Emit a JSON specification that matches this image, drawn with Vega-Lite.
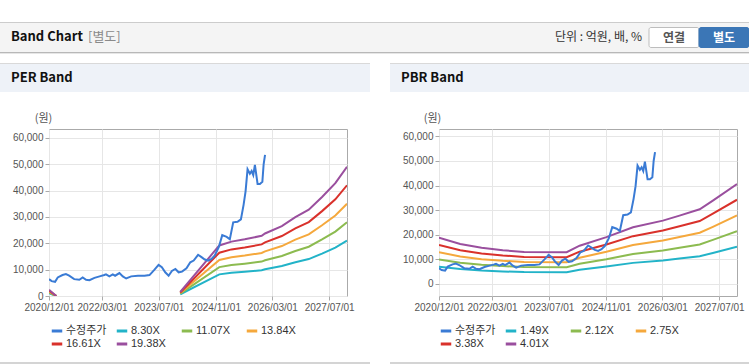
{
  "$schema": "https://vega.github.io/schema/vega-lite/v6.json",
  "padding": {"left": 0, "top": 22, "right": 0, "bottom": 0},
  "background": "#ffffff",
  "config": {
    "font": "Liberation Sans, Noto Sans CJK KR, sans-serif",
    "view": {"stroke": null},
    "axis": {"labelFont": "Liberation Sans, Noto Sans CJK KR", "labelFontSize": 10, "labelColor": "#555555", "gridColor": "#e6e6e6", "tickColor": "#aaaaaa", "domain": false, "tickSize": 4, "labelPadding": 2},
    "title": {"font": "Noto Sans CJK KR", "fontWeight": "bold", "fontSize": 13, "color": "#111111", "anchor": "start", "frame": "group", "offset": -21}
  },
  "datasets": {
    "price": [
      {"date": "2020-12-01", "series": "수정주가", "value": 6400},
      {"date": "2020-12-24", "series": "수정주가", "value": 5650},
      {"date": "2021-01-22", "series": "수정주가", "value": 5400},
      {"date": "2021-02-14", "series": "수정주가", "value": 7050},
      {"date": "2021-03-27", "series": "수정주가", "value": 7950},
      {"date": "2021-04-25", "series": "수정주가", "value": 8300},
      {"date": "2021-05-23", "series": "수정주가", "value": 7700},
      {"date": "2021-07-05", "series": "수정주가", "value": 6400},
      {"date": "2021-08-18", "series": "수정주가", "value": 6150},
      {"date": "2021-09-16", "series": "수정주가", "value": 7050},
      {"date": "2021-10-15", "series": "수정주가", "value": 6150},
      {"date": "2021-11-13", "series": "수정주가", "value": 6000},
      {"date": "2021-12-26", "series": "수정주가", "value": 6900},
      {"date": "2022-02-08", "series": "수정주가", "value": 7450},
      {"date": "2022-03-20", "series": "수정주가", "value": 7950},
      {"date": "2022-04-04", "series": "수정주가", "value": 8200},
      {"date": "2022-05-03", "series": "수정주가", "value": 7450},
      {"date": "2022-06-01", "series": "수정주가", "value": 8200},
      {"date": "2022-06-21", "series": "수정주가", "value": 7700},
      {"date": "2022-07-28", "series": "수정주가", "value": 8700},
      {"date": "2022-08-26", "series": "수정주가", "value": 7450},
      {"date": "2022-09-24", "series": "수정주가", "value": 6650},
      {"date": "2022-11-06", "series": "수정주가", "value": 7450},
      {"date": "2023-01-03", "series": "수정주가", "value": 7700},
      {"date": "2023-02-28", "series": "수정주가", "value": 7700},
      {"date": "2023-04-12", "series": "수정주가", "value": 7950},
      {"date": "2023-05-25", "series": "수정주가", "value": 10000},
      {"date": "2023-06-29", "series": "수정주가", "value": 11800},
      {"date": "2023-07-27", "series": "수정주가", "value": 10900},
      {"date": "2023-08-25", "series": "수정주가", "value": 9000},
      {"date": "2023-09-23", "series": "수정주가", "value": 7700},
      {"date": "2023-10-21", "series": "수정주가", "value": 9500},
      {"date": "2023-11-20", "series": "수정주가", "value": 10250},
      {"date": "2023-12-18", "series": "수정주가", "value": 9000},
      {"date": "2024-01-16", "series": "수정주가", "value": 9250},
      {"date": "2024-02-23", "series": "수정주가", "value": 10500},
      {"date": "2024-03-27", "series": "수정주가", "value": 12800},
      {"date": "2024-04-25", "series": "수정주가", "value": 13450},
      {"date": "2024-06-02", "series": "수정주가", "value": 15650},
      {"date": "2024-07-01", "series": "수정주가", "value": 14750},
      {"date": "2024-07-29", "series": "수정주가", "value": 13850},
      {"date": "2024-08-27", "series": "수정주가", "value": 13450},
      {"date": "2024-09-25", "series": "수정주가", "value": 14100},
      {"date": "2024-10-23", "series": "수정주가", "value": 15400},
      {"date": "2024-11-27", "series": "수정주가", "value": 18600},
      {"date": "2024-12-26", "series": "수정주가", "value": 23100},
      {"date": "2025-02-02", "series": "수정주가", "value": 22450},
      {"date": "2025-03-01", "series": "수정주가", "value": 21550},
      {"date": "2025-03-30", "series": "수정주가", "value": 27950},
      {"date": "2025-05-06", "series": "수정주가", "value": 28200},
      {"date": "2025-06-04", "series": "수정주가", "value": 29100},
      {"date": "2025-06-27", "series": "수정주가", "value": 34600},
      {"date": "2025-07-14", "series": "수정주가", "value": 39750},
      {"date": "2025-07-31", "series": "수정주가", "value": 48100},
      {"date": "2025-08-20", "series": "수정주가", "value": 46400},
      {"date": "2025-09-04", "series": "수정주가", "value": 47450},
      {"date": "2025-09-18", "series": "수정주가", "value": 45900},
      {"date": "2025-10-02", "series": "수정주가", "value": 49750},
      {"date": "2025-10-25", "series": "수정주가", "value": 42550},
      {"date": "2025-11-14", "series": "수정주가", "value": 42550},
      {"date": "2025-12-05", "series": "수정주가", "value": 43350},
      {"date": "2025-12-16", "series": "수정주가", "value": 50000},
      {"date": "2025-12-28", "series": "수정주가", "value": 53600}
    ],
    "perBand": [
      {"date": "2020-12-01", "seg": 1, "series": "8.30X", "value": 1029},
      {"date": "2020-12-01", "seg": 1, "series": "11.07X", "value": 1373},
      {"date": "2020-12-01", "seg": 1, "series": "13.84X", "value": 1716},
      {"date": "2020-12-01", "seg": 1, "series": "16.61X", "value": 2060},
      {"date": "2020-12-01", "seg": 1, "series": "19.38X", "value": 2403},
      {"date": "2021-02-01", "seg": 1, "series": "8.30X", "value": 0},
      {"date": "2021-02-01", "seg": 1, "series": "11.07X", "value": 0},
      {"date": "2021-02-01", "seg": 1, "series": "13.84X", "value": 0},
      {"date": "2021-02-01", "seg": 1, "series": "16.61X", "value": 0},
      {"date": "2021-02-01", "seg": 1, "series": "19.38X", "value": 0},
      {"date": "2024-01-01", "seg": 2, "series": "8.30X", "value": 664},
      {"date": "2024-01-01", "seg": 2, "series": "11.07X", "value": 886},
      {"date": "2024-01-01", "seg": 2, "series": "13.84X", "value": 1107},
      {"date": "2024-01-01", "seg": 2, "series": "16.61X", "value": 1329},
      {"date": "2024-01-01", "seg": 2, "series": "19.38X", "value": 1550},
      {"date": "2024-12-01", "seg": 2, "series": "8.30X", "value": 8217},
      {"date": "2024-12-01", "seg": 2, "series": "11.07X", "value": 10959},
      {"date": "2024-12-01", "seg": 2, "series": "13.84X", "value": 13702},
      {"date": "2024-12-01", "seg": 2, "series": "16.61X", "value": 16444},
      {"date": "2024-12-01", "seg": 2, "series": "19.38X", "value": 19186},
      {"date": "2025-03-15", "seg": 2, "series": "8.30X", "value": 8840},
      {"date": "2025-03-15", "seg": 2, "series": "11.07X", "value": 11790},
      {"date": "2025-03-15", "seg": 2, "series": "13.84X", "value": 14740},
      {"date": "2025-03-15", "seg": 2, "series": "16.61X", "value": 17690},
      {"date": "2025-03-15", "seg": 2, "series": "19.38X", "value": 20640},
      {"date": "2025-07-07", "seg": 2, "series": "8.30X", "value": 9213},
      {"date": "2025-07-07", "seg": 2, "series": "11.07X", "value": 12288},
      {"date": "2025-07-07", "seg": 2, "series": "13.84X", "value": 15362},
      {"date": "2025-07-07", "seg": 2, "series": "16.61X", "value": 18437},
      {"date": "2025-07-07", "seg": 2, "series": "19.38X", "value": 21512},
      {"date": "2025-11-29", "seg": 2, "series": "8.30X", "value": 9794},
      {"date": "2025-11-29", "seg": 2, "series": "11.07X", "value": 13063},
      {"date": "2025-11-29", "seg": 2, "series": "13.84X", "value": 16331},
      {"date": "2025-11-29", "seg": 2, "series": "16.61X", "value": 19600},
      {"date": "2025-11-29", "seg": 2, "series": "19.38X", "value": 22868},
      {"date": "2025-12-28", "seg": 2, "series": "8.30X", "value": 10168},
      {"date": "2025-12-28", "seg": 2, "series": "11.07X", "value": 13561},
      {"date": "2025-12-28", "seg": 2, "series": "13.84X", "value": 16954},
      {"date": "2025-12-28", "seg": 2, "series": "16.61X", "value": 20347},
      {"date": "2025-12-28", "seg": 2, "series": "19.38X", "value": 23741},
      {"date": "2026-05-21", "seg": 2, "series": "8.30X", "value": 11371},
      {"date": "2026-05-21", "seg": 2, "series": "11.07X", "value": 15166},
      {"date": "2026-05-21", "seg": 2, "series": "13.84X", "value": 18961},
      {"date": "2026-05-21", "seg": 2, "series": "16.61X", "value": 22756},
      {"date": "2026-05-21", "seg": 2, "series": "19.38X", "value": 26551},
      {"date": "2026-09-14", "seg": 2, "series": "8.30X", "value": 12824},
      {"date": "2026-09-14", "seg": 2, "series": "11.07X", "value": 17103},
      {"date": "2026-09-14", "seg": 2, "series": "13.84X", "value": 21383},
      {"date": "2026-09-14", "seg": 2, "series": "16.61X", "value": 25662},
      {"date": "2026-09-14", "seg": 2, "series": "19.38X", "value": 29942},
      {"date": "2027-01-07", "seg": 2, "series": "8.30X", "value": 14027},
      {"date": "2027-01-07", "seg": 2, "series": "11.07X", "value": 18708},
      {"date": "2027-01-07", "seg": 2, "series": "13.84X", "value": 23390},
      {"date": "2027-01-07", "seg": 2, "series": "16.61X", "value": 28071},
      {"date": "2027-01-07", "seg": 2, "series": "19.38X", "value": 32752},
      {"date": "2027-05-01", "seg": 2, "series": "8.30X", "value": 16102},
      {"date": "2027-05-01", "seg": 2, "series": "11.07X", "value": 21476},
      {"date": "2027-05-01", "seg": 2, "series": "13.84X", "value": 26850},
      {"date": "2027-05-01", "seg": 2, "series": "16.61X", "value": 32223},
      {"date": "2027-05-01", "seg": 2, "series": "19.38X", "value": 37597},
      {"date": "2027-08-23", "seg": 2, "series": "8.30X", "value": 18343},
      {"date": "2027-08-23", "seg": 2, "series": "11.07X", "value": 24465},
      {"date": "2027-08-23", "seg": 2, "series": "13.84X", "value": 30586},
      {"date": "2027-08-23", "seg": 2, "series": "16.61X", "value": 36708},
      {"date": "2027-08-23", "seg": 2, "series": "19.38X", "value": 42830},
      {"date": "2027-12-01", "seg": 2, "series": "8.30X", "value": 20999},
      {"date": "2027-12-01", "seg": 2, "series": "11.07X", "value": 28007},
      {"date": "2027-12-01", "seg": 2, "series": "13.84X", "value": 35015},
      {"date": "2027-12-01", "seg": 2, "series": "16.61X", "value": 42023},
      {"date": "2027-12-01", "seg": 2, "series": "19.38X", "value": 49031}
    ],
    "pbrBand": [
      {"date": "2020-12-01", "series": "1.49X", "value": 7003},
      {"date": "2020-12-01", "series": "2.12X", "value": 9964},
      {"date": "2020-12-01", "series": "2.75X", "value": 12925},
      {"date": "2020-12-01", "series": "3.38X", "value": 15886},
      {"date": "2020-12-01", "series": "4.01X", "value": 18847},
      {"date": "2021-06-01", "series": "1.49X", "value": 6049},
      {"date": "2021-06-01", "series": "2.12X", "value": 8607},
      {"date": "2021-06-01", "series": "2.75X", "value": 11165},
      {"date": "2021-06-01", "series": "3.38X", "value": 13723},
      {"date": "2021-06-01", "series": "4.01X", "value": 16281},
      {"date": "2021-12-01", "series": "1.49X", "value": 5453},
      {"date": "2021-12-01", "series": "2.12X", "value": 7759},
      {"date": "2021-12-01", "series": "2.75X", "value": 10065},
      {"date": "2021-12-01", "series": "3.38X", "value": 12371},
      {"date": "2021-12-01", "series": "4.01X", "value": 14677},
      {"date": "2022-06-01", "series": "1.49X", "value": 5096},
      {"date": "2022-06-01", "series": "2.12X", "value": 7250},
      {"date": "2022-06-01", "series": "2.75X", "value": 9405},
      {"date": "2022-06-01", "series": "3.38X", "value": 11560},
      {"date": "2022-06-01", "series": "4.01X", "value": 13714},
      {"date": "2022-12-01", "series": "1.49X", "value": 4843},
      {"date": "2022-12-01", "series": "2.12X", "value": 6890},
      {"date": "2022-12-01", "series": "2.75X", "value": 8938},
      {"date": "2022-12-01", "series": "3.38X", "value": 10985},
      {"date": "2022-12-01", "series": "4.01X", "value": 13033},
      {"date": "2023-12-01", "series": "1.49X", "value": 4798},
      {"date": "2023-12-01", "series": "2.12X", "value": 6826},
      {"date": "2023-12-01", "series": "2.75X", "value": 8855},
      {"date": "2023-12-01", "series": "3.38X", "value": 10884},
      {"date": "2023-12-01", "series": "4.01X", "value": 12912},
      {"date": "2024-03-21", "series": "1.49X", "value": 5781},
      {"date": "2024-03-21", "series": "2.12X", "value": 8226},
      {"date": "2024-03-21", "series": "2.75X", "value": 10670},
      {"date": "2024-03-21", "series": "3.38X", "value": 13114},
      {"date": "2024-03-21", "series": "4.01X", "value": 15559},
      {"date": "2024-11-06", "series": "1.49X", "value": 7078},
      {"date": "2024-11-06", "series": "2.12X", "value": 10070},
      {"date": "2024-11-06", "series": "2.75X", "value": 13063},
      {"date": "2024-11-06", "series": "3.38X", "value": 16055},
      {"date": "2024-11-06", "series": "4.01X", "value": 19048},
      {"date": "2025-06-22", "series": "1.49X", "value": 8568},
      {"date": "2025-06-22", "series": "2.12X", "value": 12190},
      {"date": "2025-06-22", "series": "2.75X", "value": 15813},
      {"date": "2025-06-22", "series": "3.38X", "value": 19435},
      {"date": "2025-06-22", "series": "4.01X", "value": 23058},
      {"date": "2026-03-05", "series": "1.49X", "value": 9566},
      {"date": "2026-03-05", "series": "2.12X", "value": 13610},
      {"date": "2026-03-05", "series": "2.75X", "value": 17655},
      {"date": "2026-03-05", "series": "3.38X", "value": 21700},
      {"date": "2026-03-05", "series": "4.01X", "value": 25744},
      {"date": "2026-07-26", "series": "1.49X", "value": 10326},
      {"date": "2026-07-26", "series": "2.12X", "value": 14692},
      {"date": "2026-07-26", "series": "2.75X", "value": 19058},
      {"date": "2026-07-26", "series": "3.38X", "value": 23423},
      {"date": "2026-07-26", "series": "4.01X", "value": 27789},
      {"date": "2027-01-15", "series": "1.49X", "value": 11279},
      {"date": "2027-01-15", "series": "2.12X", "value": 16048},
      {"date": "2027-01-15", "series": "2.75X", "value": 20818},
      {"date": "2027-01-15", "series": "3.38X", "value": 25587},
      {"date": "2027-01-15", "series": "4.01X", "value": 30356},
      {"date": "2027-05-08", "series": "1.49X", "value": 12591},
      {"date": "2027-05-08", "series": "2.12X", "value": 17914},
      {"date": "2027-05-08", "series": "2.75X", "value": 23238},
      {"date": "2027-05-08", "series": "3.38X", "value": 28561},
      {"date": "2027-05-08", "series": "4.01X", "value": 33885},
      {"date": "2027-12-01", "series": "1.49X", "value": 15094},
      {"date": "2027-12-01", "series": "2.12X", "value": 21476},
      {"date": "2027-12-01", "series": "2.75X", "value": 27858},
      {"date": "2027-12-01", "series": "3.38X", "value": 34239},
      {"date": "2027-12-01", "series": "4.01X", "value": 40621}
    ]
  },
  "resolve": {"scale": {"color": "independent", "fill": "independent", "stroke": "independent"}},
  "spacing": 9,
  "vconcat": [
    {
      "spacing": 0,
      "vconcat": [
        {"width": 749, "height": 1, "data": {"values": [{}]}, "mark": {"type": "rect", "color": "#cccccc"}},
        {
          "bounds": "flush",
          "spacing": 0,
          "hconcat": [
            {"width": 88, "height": 29, "data": {"values": [{}]}, "mark": {"type": "rect", "color": "#f4f4f4"},
             "title": {"text": "Band Chart", "dx": 11}},
            {"width": 400, "height": 29, "data": {"values": [{}]}, "mark": {"type": "rect", "color": "#f4f4f4"},
             "title": {"text": "[별도]", "fontWeight": "normal", "color": "#8a8a8a", "fontSize": 13}},
            {"width": 161, "height": 29, "data": {"values": [{}]}, "mark": {"type": "rect", "color": "#f4f4f4"},
             "title": {"text": "단위 : 억원, 배, %", "anchor": "end", "dx": -7, "fontWeight": "normal", "color": "#333333", "fontSize": 12}},
            {
              "width": 100, "height": 29,
              "view": {"fill": "#f4f4f4"},
              "data": {"values": [{"btn": "연결"}, {"btn": "별도"}]},
              "encoding": {
                "x": {"field": "btn", "type": "nominal", "scale": {"domain": ["연결", "별도"], "paddingInner": 0, "paddingOuter": 0}, "axis": null},
                "y": {"datum": "b", "type": "nominal", "scale": {"paddingInner": 0, "paddingOuter": 0.225}, "axis": null}
              },
              "layer": [
                {"mark": {"type": "rect", "cornerRadius": 2, "strokeWidth": 1},
                 "encoding": {
                   "fill": {"field": "btn", "type": "nominal", "scale": {"domain": ["연결", "별도"], "range": ["#ffffff", "#3b76b6"]}, "legend": null},
                   "stroke": {"field": "btn", "type": "nominal", "scale": {"domain": ["연결", "별도"], "range": ["#bdbdbd", "#3b76b6"]}, "legend": null}
                 }},
                {"mark": {"type": "text", "fontWeight": "bold", "fontSize": 12, "font": "Noto Sans CJK KR"},
                 "encoding": {
                   "text": {"field": "btn", "type": "nominal"},
                   "color": {"field": "btn", "type": "nominal", "scale": {"domain": ["연결", "별도"], "range": ["#555555", "#ffffff"]}, "legend": null}
                 }}
              ]
            }
          ]
        },
        {"width": 749, "height": 1, "data": {"values": [{}]}, "mark": {"type": "rect", "color": "#b8b8b8"}},
        {"width": 749, "height": 1, "data": {"values": [{}]}, "mark": {"type": "rect", "color": "#e6e6e6"}}
      ]
    },
    {
      "spacing": 20,
      "resolve": {"scale": {"color": "independent"}},
      "hconcat": [
        {
          "spacing": 49,
          "vconcat": [
            {
              "spacing": 19,
              "vconcat": [
                {
                  "bounds": "flush",
                  "spacing": 0,
                  "vconcat": [
                    {"width": 370, "height": 1, "data": {"values": [{}]}, "mark": {"type": "rect", "color": "#d9d9d9"}},
                    {"width": 370, "height": 28, "data": {"values": [{}]}, "mark": {"type": "rect", "color": "#eef2f8"},
                     "title": {"text": "PER Band", "dx": 11}}
                  ]
                },
                {
                  "bounds": "flush",
                  "spacing": 0,
                  "hconcat": [
                    {"width": 49, "height": 167, "data": {"values": [{}]}, "mark": {"type": "rect", "color": "#ffffff", "opacity": 0}},
                    {
                      "width": 298, "height": 167,
                      "view": {"stroke": "#aaaaaa", "fill": "#ffffff"},
                      "encoding": {
                        "x": {"field": "date", "type": "temporal",
                              "scale": {"type": "utc", "domain": [{"year": 2020, "month": 12, "date": 1, "utc": true}, {"year": 2027, "month": 12, "date": 1, "utc": true}]},
                              "axis": {"title": null, "format": "%Y/%m/%d", "grid": true, "labelOverlap": false, "labelFlush": false,
                                       "values": [{"year": 2020, "month": 12, "date": 1, "utc": true}, {"year": 2022, "month": 3, "date": 1, "utc": true}, {"year": 2023, "month": 7, "date": 1, "utc": true}, {"year": 2024, "month": 11, "date": 1, "utc": true}, {"year": 2026, "month": 3, "date": 1, "utc": true}, {"year": 2027, "month": 7, "date": 1, "utc": true}]}},
                        "y": {"field": "value", "type": "quantitative",
                              "scale": {"domain": [0, 63400], "nice": false, "zero": false},
                              "axis": {"title": "(원)", "values": [0, 10000, 20000, 30000, 40000, 50000, 60000], "format": ",.0f", "grid": true,
                                       "titleAngle": 0, "titleX": -6, "titleY": -11, "titleAlign": "center", "titleBaseline": "middle",
                                       "titleFontWeight": "normal", "titleFontSize": 11, "titleColor": "#555555", "titleFont": "Noto Sans CJK KR"}}
                      },
                      "layer": [
                        {"data": {"name": "perBand"}, "mark": {"type": "line", "strokeWidth": 2, "clip": true},
                         "encoding": {
                           "detail": {"field": "seg", "type": "nominal"},
                           "color": {"field": "series", "type": "nominal",
                                     "scale": {"domain": ["수정주가", "8.30X", "11.07X", "13.84X", "16.61X", "19.38X"], "range": ["#3a7bd5", "#22b3c8", "#8cbb50", "#f5a83c", "#d9312b", "#9a4f9e"]},
                                     "legend": {"title": null, "orient": "none", "legendX": 50, "legendY": 261, "direction": "horizontal", "columns": 4, "gridAlign": "all",
                                                "symbolType": "stroke", "symbolStrokeWidth": 3, "symbolSize": 110, "labelFontSize": 11, "labelColor": "#333333",
                                                "labelOffset": 2, "columnPadding": 3, "rowPadding": 0, "padding": 0}}
                         }},
                        {"data": {"name": "price"}, "mark": {"type": "line", "strokeWidth": 2, "clip": true},
                         "encoding": {"color": {"field": "series", "type": "nominal"}}}
                      ]
                    }
                  ]
                }
              ]
            },
            {"width": 370, "height": 2, "data": {"values": [{}]}, "mark": {"type": "rect", "color": "#d4d4d4"}}
          ]
        },
        {
          "spacing": 49,
          "vconcat": [
            {
              "spacing": 19,
              "vconcat": [
                {
                  "bounds": "flush",
                  "spacing": 0,
                  "vconcat": [
                    {"width": 359, "height": 1, "data": {"values": [{}]}, "mark": {"type": "rect", "color": "#d9d9d9"}},
                    {"width": 359, "height": 28, "data": {"values": [{}]}, "mark": {"type": "rect", "color": "#eef2f8"},
                     "title": {"text": "PBR Band", "dx": 11}}
                  ]
                },
                {
                  "bounds": "flush",
                  "spacing": 0,
                  "hconcat": [
                    {"width": 49, "height": 167, "data": {"values": [{}]}, "mark": {"type": "rect", "color": "#ffffff", "opacity": 0}},
                    {
                      "width": 298, "height": 167,
                      "view": {"stroke": "#aaaaaa", "fill": "#ffffff"},
                      "encoding": {
                        "x": {"field": "date", "type": "temporal",
                              "scale": {"type": "utc", "domain": [{"year": 2020, "month": 12, "date": 1, "utc": true}, {"year": 2027, "month": 12, "date": 1, "utc": true}]},
                              "axis": {"title": null, "format": "%Y/%m/%d", "grid": true, "labelOverlap": false, "labelFlush": false,
                                       "values": [{"year": 2020, "month": 12, "date": 1, "utc": true}, {"year": 2022, "month": 3, "date": 1, "utc": true}, {"year": 2023, "month": 7, "date": 1, "utc": true}, {"year": 2024, "month": 11, "date": 1, "utc": true}, {"year": 2026, "month": 3, "date": 1, "utc": true}, {"year": 2027, "month": 7, "date": 1, "utc": true}]}},
                        "y": {"field": "value", "type": "quantitative",
                              "scale": {"domain": [-4900, 63000], "nice": false, "zero": false},
                              "axis": {"title": "(원)", "values": [0, 10000, 20000, 30000, 40000, 50000, 60000], "format": ",.0f", "grid": true,
                                       "titleAngle": 0, "titleX": -7, "titleY": -11, "titleAlign": "center", "titleBaseline": "middle",
                                       "titleFontWeight": "normal", "titleFontSize": 11, "titleColor": "#555555", "titleFont": "Noto Sans CJK KR"}}
                      },
                      "layer": [
                        {"data": {"name": "pbrBand"}, "mark": {"type": "line", "strokeWidth": 2, "clip": true},
                         "encoding": {
                           "color": {"field": "series", "type": "nominal",
                                     "scale": {"domain": ["수정주가", "1.49X", "2.12X", "2.75X", "3.38X", "4.01X"], "range": ["#3a7bd5", "#22b3c8", "#8cbb50", "#f5a83c", "#d9312b", "#9a4f9e"]},
                                     "legend": {"title": null, "orient": "none", "legendX": 49, "legendY": 261, "direction": "horizontal", "columns": 4, "gridAlign": "all",
                                                "symbolType": "stroke", "symbolStrokeWidth": 3, "symbolSize": 110, "labelFontSize": 11, "labelColor": "#333333",
                                                "labelOffset": 2, "columnPadding": 3, "rowPadding": 0, "padding": 0}}
                         }},
                        {"data": {"name": "price"}, "mark": {"type": "line", "strokeWidth": 2, "clip": true},
                         "encoding": {"color": {"field": "series", "type": "nominal"}}}
                      ]
                    }
                  ]
                }
              ]
            },
            {"width": 359, "height": 2, "data": {"values": [{}]}, "mark": {"type": "rect", "color": "#d4d4d4"}}
          ]
        }
      ]
    }
  ]
}
